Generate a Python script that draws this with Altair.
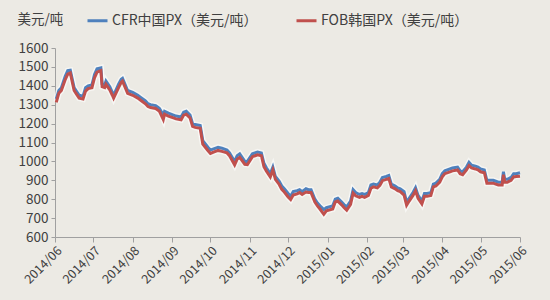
import altair as alt
import pandas as pd

# ---- data ----
dates = [
    # 2014/06
    "2014/06/02", "2014/06/04", "2014/06/06", "2014/06/09", "2014/06/11", "2014/06/13", "2014/06/16",
    "2014/06/18", "2014/06/20", "2014/06/23", "2014/06/25", "2014/06/27", "2014/06/30",
    # 2014/07
    "2014/07/02", "2014/07/04", "2014/07/07", "2014/07/08", "2014/07/10", "2014/07/11", "2014/07/14",
    "2014/07/16", "2014/07/17", "2014/07/21", "2014/07/23", "2014/07/24", "2014/07/28", "2014/07/30",
    # 2014/08
    "2014/08/01", "2014/08/05", "2014/08/07", "2014/08/11", "2014/08/13", "2014/08/15", "2014/08/19",
    "2014/08/21", "2014/08/22", "2014/08/25", "2014/08/26", "2014/08/29",
    # 2014/09
    "2014/09/02", "2014/09/04", "2014/09/08", "2014/09/10", "2014/09/12", "2014/09/15", "2014/09/17",
    "2014/09/19", "2014/09/23", "2014/09/25", "2014/09/29",
    # 2014/10
    "2014/10/01", "2014/10/03", "2014/10/07", "2014/10/10", "2014/10/14", "2014/10/16", "2014/10/20",
    "2014/10/22", "2014/10/24", "2014/10/28", "2014/10/30",
    # 2014/11
    "2014/11/03", "2014/11/05", "2014/11/07", "2014/11/10", "2014/11/12", "2014/11/14", "2014/11/17",
    "2014/11/19", "2014/11/21", "2014/11/24", "2014/11/26", "2014/11/28",
    # 2014/12
    "2014/12/01", "2014/12/03", "2014/12/05", "2014/12/08", "2014/12/10", "2014/12/12", "2014/12/15",
    "2014/12/17", "2014/12/19", "2014/12/22", "2014/12/24", "2014/12/26", "2014/12/29", "2014/12/31",
    # 2015/01
    "2015/01/05", "2015/01/07", "2015/01/09", "2015/01/12", "2015/01/14", "2015/01/16", "2015/01/19",
    "2015/01/21", "2015/01/23", "2015/01/26", "2015/01/28", "2015/01/30",
    # 2015/02
    "2015/02/02", "2015/02/04", "2015/02/06", "2015/02/09", "2015/02/11", "2015/02/13", "2015/02/16",
    "2015/02/18", "2015/02/20", "2015/02/23", "2015/02/25", "2015/02/27",
    # 2015/03
    "2015/03/02", "2015/03/04", "2015/03/06", "2015/03/09", "2015/03/11", "2015/03/13", "2015/03/16",
    "2015/03/18", "2015/03/20", "2015/03/23", "2015/03/25", "2015/03/27", "2015/03/30",
    # 2015/04
    "2015/04/01", "2015/04/03", "2015/04/07", "2015/04/09", "2015/04/13", "2015/04/15", "2015/04/17",
    "2015/04/20", "2015/04/22", "2015/04/24", "2015/04/27", "2015/04/29",
    # 2015/05
    "2015/05/01", "2015/05/04", "2015/05/06", "2015/05/08", "2015/05/11", "2015/05/13", "2015/05/15",
    "2015/05/18", "2015/05/19", "2015/05/20", "2015/05/22", "2015/05/25", "2015/05/27", "2015/05/29",
    # 2015/06
    "2015/06/01",
]

cfr_china = [
    1330, 1375, 1390, 1450, 1480, 1482, 1390, 1370, 1350, 1345, 1390, 1400, 1405,
    1460, 1490, 1495, 1410, 1405, 1425, 1395, 1365, 1350, 1410, 1435, 1440, 1375, 1370,
    1365, 1350, 1340, 1320, 1305, 1300, 1295, 1285, 1280, 1245, 1265, 1255,
    1245, 1240, 1235, 1260, 1265, 1245, 1200, 1195, 1190, 1110, 1075,
    1060, 1065, 1075, 1070, 1060, 1045, 1000, 1030, 1040, 1000, 1000,
    1040, 1045, 1050, 1045, 990, 965, 935, 970, 920, 895, 870, 855,
    830, 815, 840, 845, 850, 840, 855, 850, 850, 800, 780, 765, 745, 755,
    765, 800, 805, 785, 770, 760, 790, 850, 835, 825, 830, 825,
    835, 875, 880, 875, 890, 915, 920, 925, 880, 870, 860, 855,
    840, 785, 805, 835, 860, 820, 790, 830, 830, 835, 880, 885, 905,
    935, 950, 960, 965, 970, 950, 945, 970, 995, 980, 975, 970,
    960, 955, 900, 900, 900, 895, 890, 890, 945, 905, 905, 915, 935, 935,
    940,
]

fob_korea = [
    1312, 1360, 1375, 1432, 1462, 1468, 1375, 1355, 1335, 1330, 1372, 1385, 1390,
    1442, 1472, 1480, 1395, 1390, 1408, 1378, 1350, 1335, 1392, 1418, 1425, 1360, 1355,
    1350, 1335, 1325, 1305, 1290, 1285, 1280, 1270, 1265, 1222, 1250, 1240,
    1230, 1225, 1220, 1245, 1250, 1230, 1185, 1180, 1175, 1092, 1058,
    1042, 1048, 1058, 1053, 1045, 1030, 982, 1012, 1022, 985, 983,
    1025, 1030, 1035, 1030, 972, 948, 918, 955, 905, 878, 852, 838,
    812, 798, 822, 828, 835, 825, 838, 835, 835, 785, 765, 748, 720, 738,
    748, 785, 790, 770, 755, 742, 772, 832, 818, 810, 815, 810,
    820, 858, 865, 860, 873, 898, 905, 910, 865, 855, 845, 840,
    822, 768, 790, 820, 845, 805, 775, 815, 815, 820, 865, 870, 890,
    918, 935, 945, 950, 955, 935, 930, 955, 978, 965, 960, 955,
    945, 940, 885, 885, 885, 880, 875, 875, 930, 890, 890, 900, 918, 920,
    922,
]

series_names = ["CFR中国PX（美元/吨）", "FOB韩国PX（美元/吨）"]
series_colors = ["#4F81BD", "#C0504D"]
unit_label = "美元/吨"
y_ticks = [600, 700, 800, 900, 1000, 1100, 1200, 1300, 1400, 1500, 1600]
month_ticks = [(2014, m) for m in range(6, 13)] + [(2015, m) for m in range(1, 7)]

# ---- table ----
rows = []
for d, v in zip(dates, cfr_china):
    rows.append({"date": d, "value": v, "series": series_names[0], "order": 0})
for d, v in zip(dates, fob_korea):
    rows.append({"date": d, "value": v, "series": series_names[1], "order": 1})
df = pd.DataFrame(rows)

FONT = "Noto Sans CJK SC"
TXT = "#404040"
AXC = "#A0A0A0"

x_enc = alt.X(
    "date:T",
    scale=alt.Scale(domain=[alt.DateTime(year=2014, month=6, date=1),
                            alt.DateTime(year=2015, month=6, date=1)]),
    axis=alt.Axis(
        values=[alt.DateTime(year=y, month=m, date=1) for y, m in month_ticks],
        format="%Y/%m", labelAngle=-45, labelAlign="right", labelBaseline="top",
        labelOverlap=False, labelFlush=False, labelBound=False,
        title=None, grid=False, domainColor=AXC, tickColor=AXC, tickSize=5,
        labelColor=TXT, labelFont=FONT, labelFontSize=12.5, labelPadding=2,
    ),
)
y_enc = alt.Y(
    "value:Q",
    scale=alt.Scale(domain=[600, 1600], nice=False, zero=False),
    axis=alt.Axis(
        values=y_ticks, format="d", title=unit_label, titleAngle=0, titleAlign="left",
        titleBaseline="middle", titleX=-38, titleY=-29, titleFont=FONT,
        titleFontSize=13.5, titleFontWeight="normal", titleColor=TXT,
        grid=False, domainColor=AXC, tickColor=AXC, tickSize=4,
        labelColor=TXT, labelFont=FONT, labelFontSize=13.5, labelPadding=3,
    ),
)

glow = alt.Chart(df).mark_line(strokeWidth=6, color="white", opacity=0.55).encode(
    x=x_enc, y=y_enc, detail="series:N", order="order:Q"
)

lines = alt.Chart(df).mark_line(strokeWidth=3).encode(
    x=x_enc,
    y=y_enc,
    color=alt.Color(
        "series:N",
        scale=alt.Scale(domain=series_names, range=series_colors),
        legend=alt.Legend(
            title=None, orient="none", legendX=31, legendY=-39, direction="horizontal",
            symbolType="stroke", symbolSize=400, symbolStrokeWidth=3,
            labelFont=FONT, labelFontSize=14, labelColor=TXT, labelOffset=3,
            columnPadding=32,
        ),
    ),
)

chart = (
    alt.layer(glow, lines)
    .properties(width=465, height=189, background="#ECEAE4",
                padding={"left": 55, "top": 48, "right": 30, "bottom": 63},
                autosize=alt.AutoSizeParams(type="none"))
    .configure_view(stroke=None)
)

chart.save("out.html", embed_options={"renderer": "svg", "actions": False})
